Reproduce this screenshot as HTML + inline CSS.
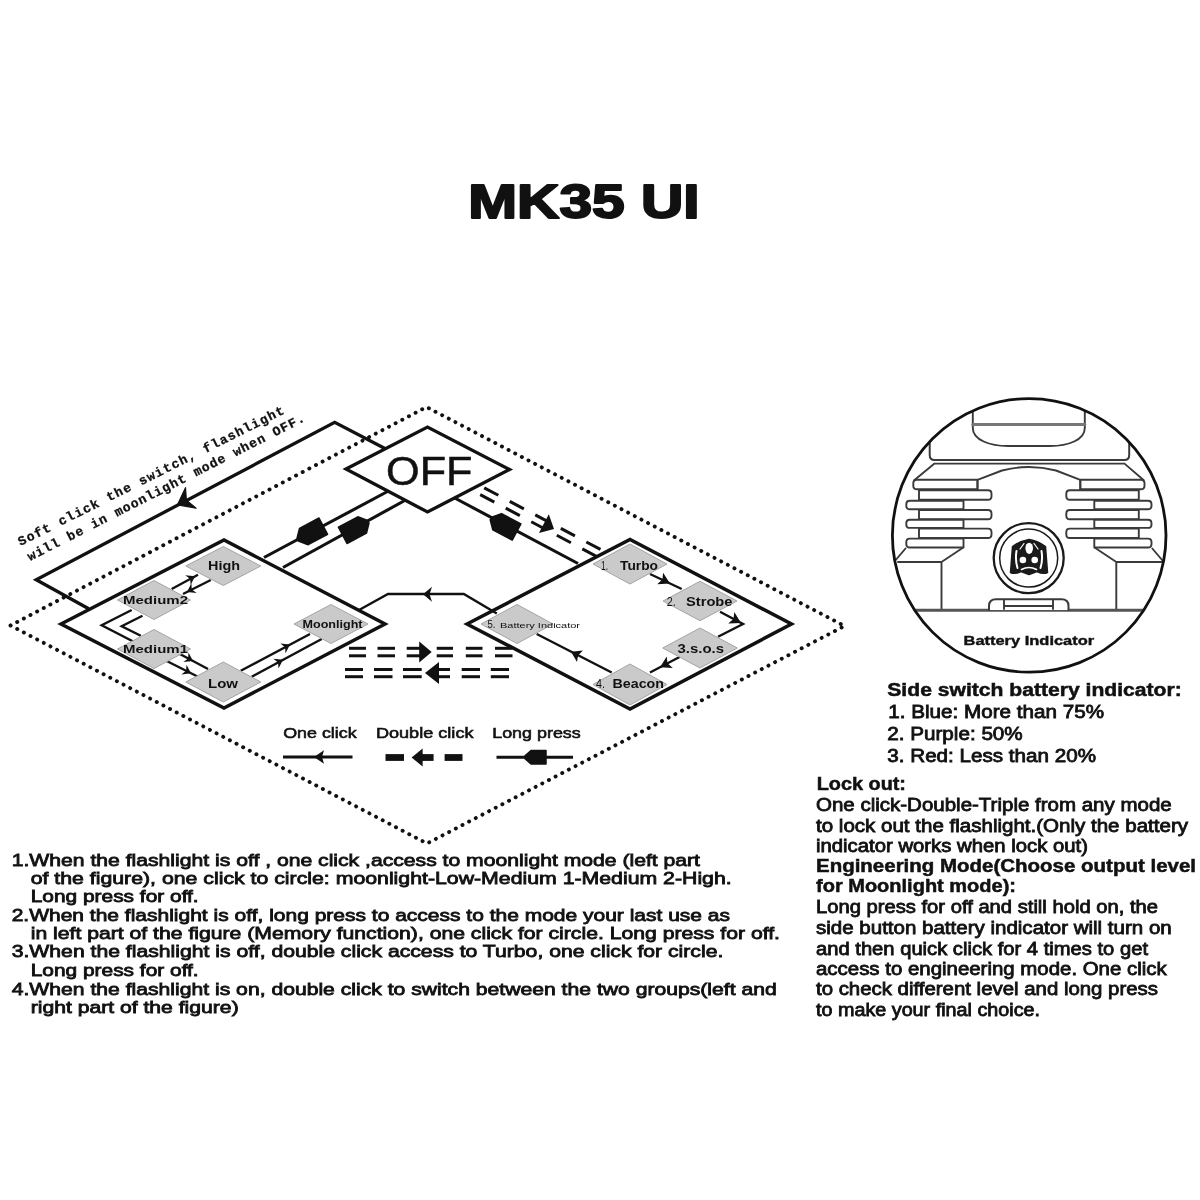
<!DOCTYPE html>
<html><head><meta charset="utf-8"><title>MK35 UI</title>
<style>html,body{margin:0;padding:0;background:#fff}svg{display:block;filter:blur(0.65px)}text{font-family:"Liberation Sans",sans-serif;fill:#111}.mono{font-family:"Liberation Mono",monospace}</style>
</head><body>
<svg width="1200" height="1200" viewBox="0 0 1200 1200">
<rect width="1200" height="1200" fill="#fff"/>
<text x="468.2" y="218.0" font-size="47.5" font-weight="bold" textLength="231.4" lengthAdjust="spacingAndGlyphs" stroke="#111" stroke-width="2" stroke-linejoin="round">MK35 UI</text>
<polygon points="10.5,625.5 426.5,407.0 844.5,626.0 427.0,843.5" fill="none" stroke="#111" stroke-width="3.9" stroke-dasharray="0.1 7.4" stroke-linecap="round"/>
<polyline points="395.0,453.7 334.7,422.4 36.2,579.7 88.7,608.8" stroke="#111" stroke-width="3.3" stroke-linejoin="miter" fill="none"/>
<polygon points="177.5,504.8 196.1,508.1 186.4,500.2 185.5,487.7" stroke="#111" stroke-width="1.2" stroke-linejoin="round" fill="#111"/>
<line x1="395.0" y1="487.5" x2="264.0" y2="557.5" stroke="#111" stroke-width="3.1"/>
<line x1="412.0" y1="496.5" x2="283.0" y2="567.5" stroke="#111" stroke-width="3.1"/>
<polygon points="298.4,541.1 308.2,544.7 327.6,534.4 319.0,518.0 299.5,528.4 297.0,538.5" fill="#111" stroke="#111" stroke-width="1.5" stroke-linejoin="round"/>
<polygon points="367.6,520.4 357.8,516.8 338.4,527.1 347.0,543.5 366.5,533.1 369.0,523.0" fill="#111" stroke="#111" stroke-width="1.5" stroke-linejoin="round"/>
<line x1="450.0" y1="495.5" x2="578.0" y2="563.5" stroke="#111" stroke-width="3.1"/>
<polygon points="490.2,519.8 492.8,529.9 512.2,540.2 520.9,523.9 501.5,513.6 491.7,517.1" fill="#111" stroke="#111" stroke-width="1.5" stroke-linejoin="round"/>
<line x1="484.2" y1="487.8" x2="601.7" y2="550.1" stroke="#111" stroke-width="3" stroke-dasharray="16 12.9"/>
<line x1="480.2" y1="494.6" x2="597.7" y2="557.0" stroke="#111" stroke-width="3" stroke-dasharray="16 12.9"/>
<polygon points="554.0,529.0 548.8,514.3 538.9,532.9" fill="#111"/>
<polyline points="359.5,609.8 388.0,594.0 463.8,594.0 496.8,613.5" stroke="#111" stroke-width="2.4" fill="none"/>
<polygon points="423.0,594.3 432.0,601.8 429.5,594.3 432.0,586.8" fill="#111"/>
<polygon points="346.0,469.0 427.5,427.0 509.5,469.5 427.5,512.0" fill="#fff" stroke="#111" stroke-width="3.3"/>
<text x="386.0" y="484.5" font-size="41" textLength="86.5" lengthAdjust="spacingAndGlyphs" stroke="#111" stroke-width="0.5">OFF</text>
<polygon points="61.0,624.0 224.0,540.0 385.0,624.0 224.0,708.0" fill="none" stroke="#111" stroke-width="3.5"/>
<polygon points="467.0,624.0 630.0,539.5 791.5,624.0 630.0,709.0" fill="none" stroke="#111" stroke-width="3.5"/>
<line x1="171.7" y1="589.0" x2="198.0" y2="574.7" stroke="#111" stroke-width="2.4"/>
<polygon points="195.0,576.3 185.3,575.3 190.2,578.9 190.6,585.0" fill="#111"/>
<line x1="183.0" y1="594.0" x2="210.8" y2="580.0" stroke="#111" stroke-width="2.4"/>
<polygon points="187.0,592.0 196.7,593.0 191.8,589.4 191.4,583.3" fill="#111"/>
<polyline points="131.7,610.0 101.7,625.3 140.0,645.0" stroke="#111" stroke-width="2.4" fill="none"/>
<polyline points="142.5,615.8 121.7,626.3 140.8,635.8" stroke="#111" stroke-width="2.4" fill="none"/>
<line x1="178.0" y1="653.0" x2="208.0" y2="669.0" stroke="#111" stroke-width="2.4"/>
<polygon points="193.0,661.0 188.5,652.4 188.1,658.4 183.4,662.1" fill="#111"/>
<line x1="166.7" y1="661.0" x2="198.0" y2="676.7" stroke="#111" stroke-width="2.4"/>
<polygon points="191.0,673.3 186.5,664.7 186.1,670.7 181.4,674.4" fill="#111"/>
<line x1="240.8" y1="670.8" x2="310.0" y2="634.0" stroke="#111" stroke-width="2.4"/>
<polygon points="290.0,644.6 280.4,643.5 285.1,647.2 285.5,653.2" fill="#111"/>
<line x1="251.7" y1="676.7" x2="321.7" y2="639.0" stroke="#111" stroke-width="2.4"/>
<polygon points="283.0,659.8 273.4,658.7 278.1,662.4 278.5,668.4" fill="#111"/>
<polygon points="185.8,566.0 223.3,546.5 260.8,566.0 223.3,585.5" fill="#cacaca" stroke="#a4a4a4" stroke-width="1"/>
<polygon points="117.5,600.0 154.0,580.5 190.5,600.0 154.0,619.5" fill="#cacaca" stroke="#a4a4a4" stroke-width="1"/>
<polygon points="117.5,649.0 154.0,629.5 190.5,649.0 154.0,668.5" fill="#cacaca" stroke="#a4a4a4" stroke-width="1"/>
<polygon points="185.8,682.0 223.3,662.0 260.8,682.0 223.3,702.0" fill="#cacaca" stroke="#a4a4a4" stroke-width="1"/>
<polygon points="294.0,624.0 331.0,604.5 368.0,624.0 331.0,643.5" fill="#cacaca" stroke="#a4a4a4" stroke-width="1"/>
<text x="208.0" y="570.0" font-size="12.5" font-weight="bold" textLength="32.0" lengthAdjust="spacingAndGlyphs" fill="#222">High</text>
<text x="123.0" y="604.0" font-size="11.5" font-weight="bold" textLength="65.0" lengthAdjust="spacingAndGlyphs" fill="#222">Medium2</text>
<text x="123.0" y="652.5" font-size="11.5" font-weight="bold" textLength="65.0" lengthAdjust="spacingAndGlyphs" fill="#222">Medium1</text>
<text x="208.0" y="687.5" font-size="12.5" font-weight="bold" textLength="30.0" lengthAdjust="spacingAndGlyphs" fill="#222">Low</text>
<text x="302.5" y="627.5" font-size="10" font-weight="bold" textLength="60.0" lengthAdjust="spacingAndGlyphs" fill="#222">Moonlight</text>
<line x1="650.0" y1="574.0" x2="681.7" y2="589.0" stroke="#111" stroke-width="2.4"/>
<polygon points="670.0,583.5 663.1,572.7 662.4,579.6 657.2,584.3" fill="#111"/>
<polyline points="720.0,611.7 743.0,624.0 718.0,636.7" stroke="#111" stroke-width="2.4" fill="none"/>
<polygon points="741.0,623.0 734.3,612.1 733.5,619.0 728.2,623.6" fill="#111"/>
<line x1="680.0" y1="656.7" x2="650.0" y2="672.5" stroke="#111" stroke-width="2.4"/>
<polygon points="660.0,667.3 672.8,667.9 667.5,663.3 666.7,656.4" fill="#111"/>
<line x1="611.7" y1="672.5" x2="536.7" y2="634.0" stroke="#111" stroke-width="2.4"/>
<polygon points="571.0,651.8 577.0,662.1 578.1,655.4 582.9,650.5" fill="#111"/>
<polygon points="593.0,564.0 630.0,544.0 667.0,564.0 630.0,584.0" fill="#cacaca" stroke="#a4a4a4" stroke-width="1"/>
<polygon points="663.0,601.0 700.0,581.3 737.0,601.0 700.0,620.7" fill="#cacaca" stroke="#a4a4a4" stroke-width="1"/>
<polygon points="662.7,648.0 700.0,628.0 737.3,648.0 700.0,668.0" fill="#cacaca" stroke="#a4a4a4" stroke-width="1"/>
<polygon points="593.0,684.5 630.0,664.0 667.0,684.5 630.0,705.0" fill="#cacaca" stroke="#a4a4a4" stroke-width="1"/>
<polygon points="481.0,624.0 517.0,604.5 553.0,624.0 517.0,643.5" fill="#cacaca" stroke="#a4a4a4" stroke-width="1"/>
<text x="601.0" y="569.5" font-size="12.5" textLength="7.0" lengthAdjust="spacingAndGlyphs" fill="#222">1.</text>
<text x="620.0" y="569.5" font-size="13.5" font-weight="bold" textLength="38.0" lengthAdjust="spacingAndGlyphs" fill="#222">Turbo</text>
<text x="666.7" y="606.0" font-size="12.5" textLength="9.0" lengthAdjust="spacingAndGlyphs" fill="#222">2.</text>
<text x="686.0" y="606.0" font-size="13.5" font-weight="bold" textLength="46.5" lengthAdjust="spacingAndGlyphs" fill="#222">Strobe</text>
<text x="677.5" y="652.5" font-size="13" font-weight="bold" textLength="46.5" lengthAdjust="spacingAndGlyphs" fill="#222">3.s.o.s</text>
<text x="596.0" y="688.0" font-size="12.5" textLength="9.0" lengthAdjust="spacingAndGlyphs" fill="#222">4.</text>
<text x="612.5" y="688.0" font-size="13.5" font-weight="bold" textLength="51.5" lengthAdjust="spacingAndGlyphs" fill="#222">Beacon</text>
<text x="487.5" y="628.0" font-size="10" textLength="8.0" lengthAdjust="spacingAndGlyphs" fill="#222">5.</text>
<text x="500.0" y="627.5" font-size="7.5" textLength="80.0" lengthAdjust="spacingAndGlyphs" fill="#222">Battery Indicator</text>
<line x1="349.0" y1="648.3" x2="366.0" y2="648.3" stroke="#111" stroke-width="3"/>
<line x1="377.5" y1="648.3" x2="395.0" y2="648.3" stroke="#111" stroke-width="3"/>
<line x1="406.7" y1="648.3" x2="422.0" y2="648.3" stroke="#111" stroke-width="3"/>
<line x1="436.7" y1="648.3" x2="453.0" y2="648.3" stroke="#111" stroke-width="3"/>
<line x1="465.8" y1="648.3" x2="482.5" y2="648.3" stroke="#111" stroke-width="3"/>
<line x1="495.0" y1="648.3" x2="512.5" y2="648.3" stroke="#111" stroke-width="3"/>
<line x1="349.0" y1="655.8" x2="366.0" y2="655.8" stroke="#111" stroke-width="3"/>
<line x1="377.5" y1="655.8" x2="395.0" y2="655.8" stroke="#111" stroke-width="3"/>
<line x1="406.7" y1="655.8" x2="422.0" y2="655.8" stroke="#111" stroke-width="3"/>
<line x1="436.7" y1="655.8" x2="453.0" y2="655.8" stroke="#111" stroke-width="3"/>
<line x1="465.8" y1="655.8" x2="482.5" y2="655.8" stroke="#111" stroke-width="3"/>
<line x1="495.0" y1="655.8" x2="512.5" y2="655.8" stroke="#111" stroke-width="3"/>
<polygon points="431.7,652.0 419.2,641.5 419.2,662.5" fill="#111"/>
<line x1="345.0" y1="669.5" x2="363.0" y2="669.5" stroke="#111" stroke-width="3"/>
<line x1="374.0" y1="669.5" x2="392.5" y2="669.5" stroke="#111" stroke-width="3"/>
<line x1="403.0" y1="669.5" x2="421.7" y2="669.5" stroke="#111" stroke-width="3"/>
<line x1="437.0" y1="669.5" x2="450.0" y2="669.5" stroke="#111" stroke-width="3"/>
<line x1="461.7" y1="669.5" x2="480.0" y2="669.5" stroke="#111" stroke-width="3"/>
<line x1="490.8" y1="669.5" x2="509.0" y2="669.5" stroke="#111" stroke-width="3"/>
<line x1="345.0" y1="676.7" x2="363.0" y2="676.7" stroke="#111" stroke-width="3"/>
<line x1="374.0" y1="676.7" x2="392.5" y2="676.7" stroke="#111" stroke-width="3"/>
<line x1="403.0" y1="676.7" x2="421.7" y2="676.7" stroke="#111" stroke-width="3"/>
<line x1="437.0" y1="676.7" x2="450.0" y2="676.7" stroke="#111" stroke-width="3"/>
<line x1="461.7" y1="676.7" x2="480.0" y2="676.7" stroke="#111" stroke-width="3"/>
<line x1="490.8" y1="676.7" x2="509.0" y2="676.7" stroke="#111" stroke-width="3"/>
<polygon points="425.0,673.0 439.0,684.0 439.0,662.0" fill="#111"/>
<text x="283.2" y="738.3" font-size="15.5" textLength="73.4" lengthAdjust="spacingAndGlyphs" stroke="#111" stroke-width="0.6">One click</text>
<text x="375.9" y="738.3" font-size="15.5" textLength="97.6" lengthAdjust="spacingAndGlyphs" stroke="#111" stroke-width="0.6">Double click</text>
<text x="492.2" y="738.3" font-size="15.5" textLength="88.6" lengthAdjust="spacingAndGlyphs" stroke="#111" stroke-width="0.6">Long press</text>
<line x1="283.0" y1="757.0" x2="352.5" y2="757.0" stroke="#111" stroke-width="3.2"/>
<polygon points="314.0,757.0 324.0,763.8 322.0,757.0 324.0,750.2" fill="#111"/>
<line x1="385.5" y1="757.5" x2="404.0" y2="757.5" stroke="#111" stroke-width="6.8"/>
<line x1="421.0" y1="757.5" x2="433.6" y2="757.5" stroke="#111" stroke-width="6.8"/>
<polygon points="411.6,757.5 422.6,766.5 422.6,748.5" fill="#111"/>
<line x1="444.6" y1="757.5" x2="462.5" y2="757.5" stroke="#111" stroke-width="6.8"/>
<line x1="496.5" y1="757.3" x2="573.0" y2="757.3" stroke="#111" stroke-width="3.1"/>
<polygon points="525.0,758.8 531.0,764.0 546.0,764.0 546.0,750.5 531.0,750.5 525.0,755.8" fill="#111" stroke="#111" stroke-width="1.5" stroke-linejoin="round"/>
<defs><clipPath id="cc"><circle cx="1029.2" cy="535.4" r="136.8"/></clipPath></defs>
<g clip-path="url(#cc)" fill="none" stroke="#3a3a3a" stroke-width="1.9" stroke-linejoin="round" stroke-linecap="round">
<path d="M972.8,395 V428 C972.8,440 990,446 1008,446 H1050 C1068,446 1084.8,440 1084.8,428 V395"/>
<path d="M972.8,424.6 H1084.8" stroke-width="3" stroke="#777"/>
<path d="M929.7,436 V455 Q929.7,460 934.5,460 H1124.5 Q1129.2,460 1129.2,455 V436" stroke-width="2"/>
<path d="M935.5,463.6 H1123.5"/>
<path d="M934.5,463.6 L914.5,480 M1124.5,463.6 L1143.5,480"/>
<path d="M916.8,479.8 H977.5 V489.2 H916.8 Q913.3,489.2 913.3,485.7 V483.3 Q913.3,479.8 916.8,479.8 Z" fill="#fff"/>
<path d="M1080.3,479.8 H1141.0 Q1144.5,479.8 1144.5,483.3 V485.7 Q1144.5,489.2 1141.0,489.2 H1080.3 Z" fill="#fff"/>
<path d="M919.0,490.3 H988.0 Q991.5,490.3 991.5,493.8 V496.2 Q991.5,499.7 988.0,499.7 H919.0 Z" fill="#fff"/>
<path d="M1069.8,490.3 H1138.8 V499.7 H1069.8 Q1066.3,499.7 1066.3,496.2 V493.8 Q1066.3,490.3 1069.8,490.3 Z" fill="#fff"/>
<path d="M909.8,500.8 H963.5 V509.2 H909.8 Q906.3,509.2 906.3,505.7 V504.3 Q906.3,500.8 909.8,500.8 Z" fill="#fff"/>
<path d="M1094.3,500.8 H1148.0 Q1151.5,500.8 1151.5,504.3 V505.7 Q1151.5,509.2 1148.0,509.2 H1094.3 Z" fill="#fff"/>
<path d="M919.0,510.0 H988.0 Q991.5,510.0 991.5,513.5 V515.8 Q991.5,519.3 988.0,519.3 H919.0 Z" fill="#fff"/>
<path d="M1069.8,510.0 H1138.8 V519.3 H1069.8 Q1066.3,519.3 1066.3,515.8 V513.5 Q1066.3,510.0 1069.8,510.0 Z" fill="#fff"/>
<path d="M909.8,519.8 H963.5 V527.9 H909.8 Q906.3,527.9 906.3,524.4 V523.3 Q906.3,519.8 909.8,519.8 Z" fill="#fff"/>
<path d="M1094.3,519.8 H1148.0 Q1151.5,519.8 1151.5,523.3 V524.4 Q1151.5,527.9 1148.0,527.9 H1094.3 Z" fill="#fff"/>
<path d="M919.0,528.6 H988.0 Q991.5,528.6 991.5,532.1 V534.5 Q991.5,538.0 988.0,538.0 H919.0 Z" fill="#fff"/>
<path d="M1069.8,528.6 H1138.8 V538.0 H1069.8 Q1066.3,538.0 1066.3,534.5 V532.1 Q1066.3,528.6 1069.8,528.6 Z" fill="#fff"/>
<path d="M909.8,538.6 H963.5 V547.5 H909.8 Q906.3,547.5 906.3,544.0 V542.1 Q906.3,538.6 909.8,538.6 Z" fill="#fff"/>
<path d="M1094.3,538.6 H1148.0 Q1151.5,538.6 1151.5,542.1 V544.0 Q1151.5,547.5 1148.0,547.5 H1094.3 Z" fill="#fff"/>
<path d="M977.5,489.2 V479.8 L1002,470.5 Q1029,463.5 1056,470.5 L1080.3,479.8 V489.2"/>
<path d="M962.5,548 L941.5,562 V610 M898,562 H941.5 M905.5,548.5 L894,562"/>
<path d="M1095.3000000000002,548 L1116.3000000000002,562 V610 M1162,562 H1116.3000000000002 M1152.3000000000002,548.5 L1163.8000000000002,562"/>
<path d="M900,610.3 H1160" stroke-width="3" stroke="#555"/>
<path d="M989,610 V606 Q989,599.3 996,599.3 H1061.5 Q1068.5,599.3 1068.5,606 V610" fill="#fff" stroke-width="2"/>
<path d="M1004,600 V609 M1053,600 V609 M1004,606 H1053"/>
<circle cx="1028.7" cy="558.1" r="35" stroke="#1a1a1a" stroke-width="2.3" fill="#fff"/>
<circle cx="1028.7" cy="558.1" r="29" stroke="#1a1a1a" stroke-width="1.5"/>
<path d="M1029,539.5 Q1038,541 1045.5,546.5 L1047.5,572.5 Q1043,574.5 1037,571.5 L1029,574.5 L1021,571.5 Q1015,574.5 1010.5,572.5 L1012.5,546.5 Q1020,541 1029,539.5 Z" fill="#1a1a1a" stroke="#1a1a1a" stroke-width="1.5"/>
<ellipse cx="1029.2" cy="548.3" rx="3.8" ry="5.6" fill="#fff" stroke="none"/>
<circle cx="1022.9" cy="560" r="3.3" fill="#fff" stroke="none"/>
<circle cx="1034.7" cy="560" r="3.3" fill="#fff" stroke="none"/>
<path d="M1016.5,551 Q1015,560 1017.5,568 M1041.5,551 Q1043,560 1040.5,568" stroke="#fff" stroke-width="2"/>
<path d="M1021.5,569.5 Q1029,565.5 1036.5,569.5" stroke="#fff" stroke-width="1.6"/>
<path d="M1024,543.5 L1020,549 M1034,543.5 L1038,549" stroke="#fff" stroke-width="1.2"/>
</g>
<circle cx="1029.2" cy="535.4" r="136.8" fill="none" stroke="#111" stroke-width="2.8"/>
<text x="963.5" y="645.3" font-size="13" font-weight="bold" textLength="130.7" lengthAdjust="spacingAndGlyphs" stroke="#111" stroke-width="0.4">Battery  Indicator</text>
<text x="887.3" y="696.0" font-size="18" font-weight="bold" textLength="294.4" lengthAdjust="spacingAndGlyphs" stroke="#111" stroke-width="0.5">Side switch battery indicator:</text>
<text x="888.3" y="717.7" font-size="18" textLength="215.7" lengthAdjust="spacingAndGlyphs" stroke="#111" stroke-width="0.8">1. Blue: More than 75%</text>
<text x="887.3" y="740.0" font-size="18" textLength="135.4" lengthAdjust="spacingAndGlyphs" stroke="#111" stroke-width="0.8">2. Purple: 50%</text>
<text x="887.3" y="761.7" font-size="18" textLength="208.7" lengthAdjust="spacingAndGlyphs" stroke="#111" stroke-width="0.8">3. Red: Less than 20%</text>
<text x="816.7" y="790.0" font-size="18" font-weight="bold" textLength="89.3" lengthAdjust="spacingAndGlyphs" stroke="#111" stroke-width="0.5">Lock out:</text>
<text x="816.0" y="811.0" font-size="18" textLength="355.7" lengthAdjust="spacingAndGlyphs" stroke="#111" stroke-width="0.8">One click-Double-Triple from any mode</text>
<text x="816.0" y="831.7" font-size="18" textLength="372.0" lengthAdjust="spacingAndGlyphs" stroke="#111" stroke-width="0.8">to lock out the flashlight.(Only the battery</text>
<text x="816.0" y="851.7" font-size="18" textLength="272.0" lengthAdjust="spacingAndGlyphs" stroke="#111" stroke-width="0.8">indicator works when lock out)</text>
<text x="816.0" y="872.3" font-size="18" font-weight="bold" textLength="380.0" lengthAdjust="spacingAndGlyphs" stroke="#111" stroke-width="0.5">Engineering Mode(Choose output level</text>
<text x="816.0" y="892.3" font-size="18" font-weight="bold" textLength="200.0" lengthAdjust="spacingAndGlyphs" stroke="#111" stroke-width="0.5">for Moonlight mode):</text>
<text x="816.0" y="913.3" font-size="18" textLength="342.0" lengthAdjust="spacingAndGlyphs" stroke="#111" stroke-width="0.8">Long press for off and still hold on, the</text>
<text x="816.0" y="934.0" font-size="18" textLength="355.7" lengthAdjust="spacingAndGlyphs" stroke="#111" stroke-width="0.8">side button battery indicator will turn on</text>
<text x="816.0" y="955.0" font-size="18" textLength="332.0" lengthAdjust="spacingAndGlyphs" stroke="#111" stroke-width="0.8">and then quick click for 4 times to get</text>
<text x="816.0" y="975.0" font-size="18" textLength="350.7" lengthAdjust="spacingAndGlyphs" stroke="#111" stroke-width="0.8">access to engineering mode. One click</text>
<text x="816.0" y="995.0" font-size="18" textLength="342.0" lengthAdjust="spacingAndGlyphs" stroke="#111" stroke-width="0.8">to check different level and long press</text>
<text x="816.0" y="1016.0" font-size="18" textLength="224.0" lengthAdjust="spacingAndGlyphs" stroke="#111" stroke-width="0.8">to make your final choice.</text>
<text x="11.7" y="866.0" font-size="17" textLength="688.3" lengthAdjust="spacingAndGlyphs" stroke="#111" stroke-width="0.8">1.When the flashlight is off , one click ,access to moonlight mode (left part</text>
<text x="30.7" y="884.0" font-size="17" textLength="701.0" lengthAdjust="spacingAndGlyphs" stroke="#111" stroke-width="0.8">of the figure), one click to circle: moonlight-Low-Medium 1-Medium 2-High.</text>
<text x="30.7" y="901.7" font-size="17" textLength="168.0" lengthAdjust="spacingAndGlyphs" stroke="#111" stroke-width="0.8">Long press for off.</text>
<text x="11.7" y="921.0" font-size="17" textLength="718.3" lengthAdjust="spacingAndGlyphs" stroke="#111" stroke-width="0.8">2.When the flashlight is off, long press to access to the mode your last use as</text>
<text x="30.7" y="939.0" font-size="17" textLength="749.3" lengthAdjust="spacingAndGlyphs" stroke="#111" stroke-width="0.8">in left part of the figure (Memory function), one click for circle. Long press for off.</text>
<text x="11.7" y="957.3" font-size="17" textLength="711.6" lengthAdjust="spacingAndGlyphs" stroke="#111" stroke-width="0.8">3.When the flashlight is off, double click access to Turbo, one click for circle.</text>
<text x="30.7" y="975.7" font-size="17" textLength="168.0" lengthAdjust="spacingAndGlyphs" stroke="#111" stroke-width="0.8">Long press for off.</text>
<text x="11.7" y="995.0" font-size="17" textLength="765.0" lengthAdjust="spacingAndGlyphs" stroke="#111" stroke-width="0.8">4.When the flashlight is on, double click to switch between the two groups(left and</text>
<text x="30.7" y="1013.3" font-size="17" textLength="208.0" lengthAdjust="spacingAndGlyphs" stroke="#111" stroke-width="0.8">right part of the figure)</text>
<text transform="translate(20.6,546) rotate(-26.65)" font-size="13" textLength="295.8" class="mono" font-weight="bold" stroke="#111" stroke-width="0.3" lengthAdjust="spacing">Soft click the switch, flashlight</text>
<text transform="translate(30,561) rotate(-26.96)" font-size="13" textLength="309.2" class="mono" font-weight="bold" stroke="#111" stroke-width="0.3" lengthAdjust="spacing">will be in moonlight mode when OFF.</text>
</svg></body></html>
